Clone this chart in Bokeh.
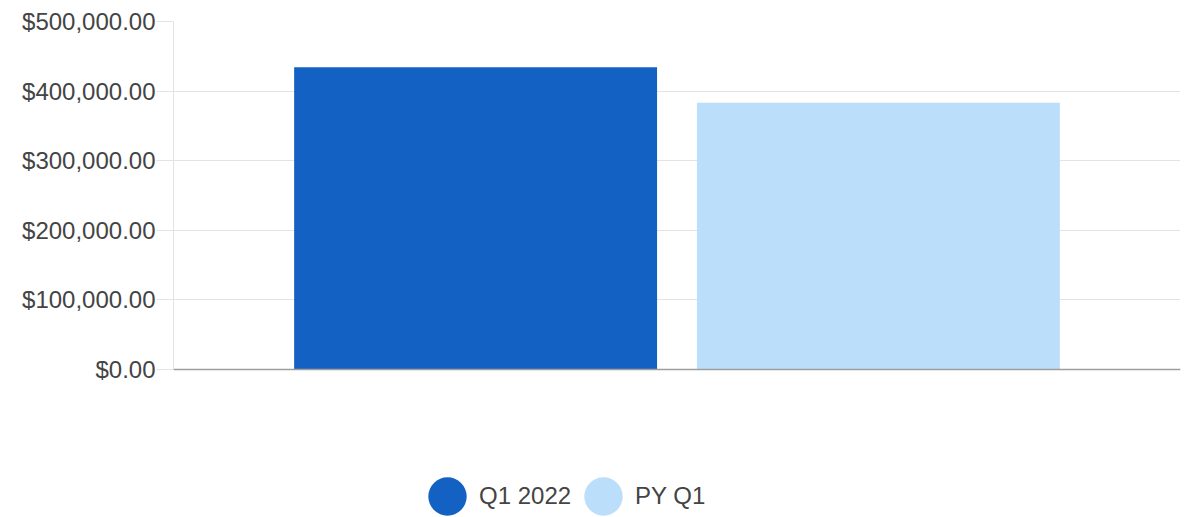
from bokeh.plotting import figure
from bokeh.models import ColumnDataSource, FactorRange, NumeralTickFormatter, FixedTicker, Span, Range1d
from bokeh.embed import file_html
from bokeh.resources import INLINE

# data
series = ["Q1 2022", "PY Q1"]
amounts = [434400, 383400]
colors = ["#1362C3", "#BBDEFB"]
y_ticks = [0, 100000, 200000, 300000, 400000, 500000]

FONT = "Liberation Sans"

# layout constants (pixels)
FRAME_TOP = 21
BASELINE = 369
HEIGHT = 517
Y_MAX = y_ticks[-1]
# extend the frame below the baseline so the legend can live inside it
y_min = -(HEIGHT - BASELINE) * Y_MAX / (BASELINE - FRAME_TOP)

src = ColumnDataSource(dict(series=series, amount=amounts, color=colors,
                            mid=[a / 2 for a in amounts]))

p = figure(width=1192, height=HEIGHT, output_backend="svg", toolbar_location=None,
           x_range=FactorRange(factors=series, range_padding=0.25),
           y_range=Range1d(y_min, Y_MAX),
           min_border_left=173, min_border_right=12, min_border_top=FRAME_TOP, min_border_bottom=0)
p.outline_line_color = None
p.background_fill_color = "white"
p.border_fill_color = "white"

# circles used only as legend glyphs (hidden behind the bars)
p.ellipse(x="series", y="mid", width=38, height=38, width_units="screen", height_units="screen",
          fill_color="color", line_color=None, source=src, legend_field="series")

p.vbar(x="series", top="amount", bottom=0, width=0.901, fill_color="color", line_color=None, source=src)

p.xaxis.visible = False
p.xgrid.visible = False
p.ygrid.grid_line_color = "#e3e3e3"
p.ygrid.grid_line_width = 1

ya = p.yaxis[0]
ya.ticker = FixedTicker(ticks=y_ticks)
ya.bounds = (0, Y_MAX)
ya.formatter = NumeralTickFormatter(format="$0,0.00")
ya.axis_line_color = "#e3e3e3"
ya.major_tick_line_color = "#e3e3e3"
ya.major_tick_out = 17
ya.major_tick_in = 0
ya.minor_tick_line_color = None
ya.major_label_standoff = 1
ya.major_label_text_font = FONT
ya.major_label_text_font_size = "24px"
ya.major_label_text_color = "#444444"

p.add_layout(Span(location=0, dimension="width", line_color="#9e9e9e", line_width=1.5))

lg = p.legend[0]
lg.orientation = "horizontal"
lg.location = (250, -3)
lg.glyph_width = 48
lg.glyph_height = 48
lg.label_standoff = 8
lg.spacing = 8
lg.padding = 0
lg.margin = 0
lg.border_line_color = None
lg.background_fill_alpha = 0
lg.label_text_font = FONT
lg.label_text_font_size = "24px"
lg.label_text_color = "#444444"

open("out.html", "w").write(file_html(p, INLINE))
